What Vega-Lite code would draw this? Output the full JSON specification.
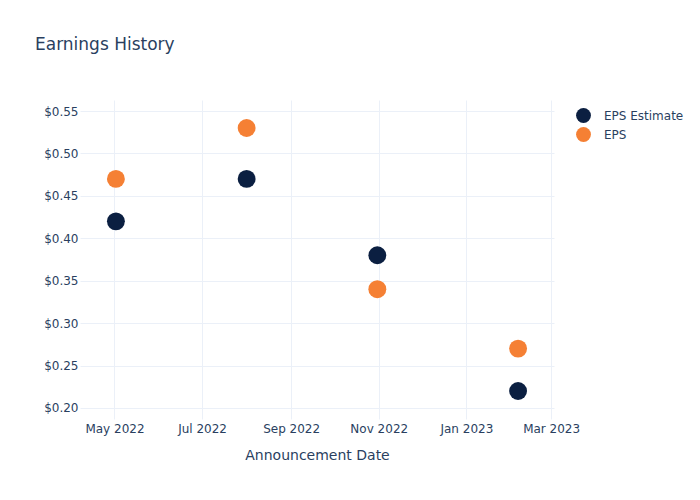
{
  "$schema": "https://vega.github.io/schema/vega-lite/v6.json",
  "autosize": {"type": "none"},
  "width": 474,
  "height": 319,
  "padding": {"left": 80, "top": 100, "right": 146, "bottom": 81},
  "background": "white",
  "title": {
    "text": "Earnings History",
    "anchor": "start",
    "frame": "group",
    "dx": -45,
    "offset": 46,
    "font": "DejaVu Sans",
    "fontSize": 17,
    "fontWeight": "normal",
    "color": "#2a3f5f"
  },
  "config": {
    "view": {"stroke": null},
    "font": "DejaVu Sans"
  },
  "data": {
    "values": [
      {"date": "2022-05-02", "series": "EPS Estimate", "value": 0.42},
      {"date": "2022-08-01", "series": "EPS Estimate", "value": 0.47},
      {"date": "2022-10-31", "series": "EPS Estimate", "value": 0.38},
      {"date": "2023-02-06", "series": "EPS Estimate", "value": 0.22},
      {"date": "2022-05-02", "series": "EPS", "value": 0.47},
      {"date": "2022-08-01", "series": "EPS", "value": 0.53},
      {"date": "2022-10-31", "series": "EPS", "value": 0.34},
      {"date": "2023-02-06", "series": "EPS", "value": 0.27}
    ]
  },
  "mark": {"type": "circle", "size": 320, "opacity": 1},
  "encoding": {
    "x": {
      "field": "date",
      "type": "temporal",
      "scale": {"type": "utc", "domain": ["2022-04-07", "2023-03-03"]},
      "axis": {
        "title": "Announcement Date",
        "titleFont": "DejaVu Sans",
        "titleFontSize": 14,
        "titleFontWeight": "normal",
        "titleColor": "#2a3f5f",
        "titlePadding": 14,
        "values": ["2022-05-01", "2022-07-01", "2022-09-01", "2022-11-01", "2023-01-01", "2023-03-01"],
        "labelExpr": "utcFormat(datum.value, '%b %Y')",
        "labelFontSize": 12,
        "labelColor": "#2a3f5f",
        "labelPadding": 4,
        "ticks": false,
        "domain": false,
        "grid": true,
        "gridColor": "#ebf0f8",
        "gridWidth": 1
      }
    },
    "y": {
      "field": "value",
      "type": "quantitative",
      "scale": {"domain": [0.187, 0.563], "nice": false, "zero": false},
      "axis": {
        "title": null,
        "values": [0.2, 0.25, 0.3, 0.35, 0.4, 0.45, 0.5, 0.55],
        "format": "$.2f",
        "labelFontSize": 12,
        "labelColor": "#2a3f5f",
        "labelPadding": 2,
        "ticks": false,
        "domain": false,
        "grid": true,
        "gridColor": "#ebf0f8",
        "gridWidth": 1
      }
    },
    "color": {
      "field": "series",
      "type": "nominal",
      "sort": ["EPS Estimate", "EPS"],
      "scale": {"domain": ["EPS Estimate", "EPS"], "range": ["#0b1f41", "#f58034"]},
      "legend": {
        "title": null,
        "orient": "none",
        "legendX": 495,
        "legendY": 7,
        "symbolSize": 220,
        "symbolType": "circle",
        "labelFontSize": 12,
        "labelColor": "#2a3f5f",
        "labelOffset": 12,
        "rowPadding": 3
      }
    }
  }
}
